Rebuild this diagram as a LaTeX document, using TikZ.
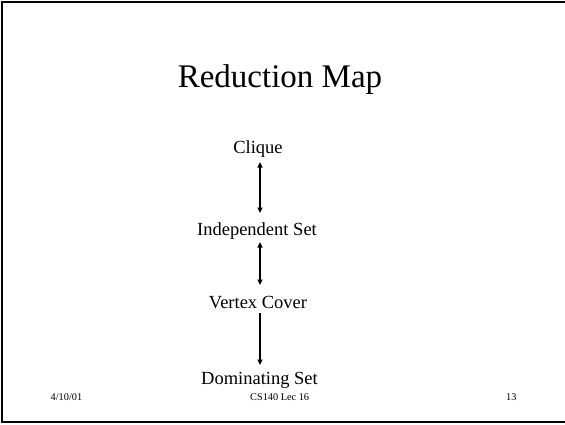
\documentclass[tikz,border=0pt]{standalone}
\usepackage{fontspec}
\setmainfont{Liberation Serif}
\usetikzlibrary{arrows.meta}
\tikzset{
  item/.style={anchor=base, inner sep=0pt, font=\fontsize{18.5}{22}\selectfont},
  foot/.style={anchor=base west, inner sep=0pt, font=\fontsize{10.3}{12}\selectfont},
  reduce/.style={line width=2pt, -{Triangle[length=5.5pt,width=5pt]}},
  both/.style={line width=2pt, {Triangle[length=5.5pt,width=5pt]}-{Triangle[length=5.5pt,width=5pt]}},
}
\begin{document}
\begin{tikzpicture}[x=1pt,y=-1pt]
\useasboundingbox (0,0) rectangle (565,424);
% slide frame (right edge runs off the page)
\draw[line width=2.5pt] (570,2) -- (2,2) -- (2,422) -- (570,422);

\node[anchor=base, inner sep=0pt, font=\fontsize{33}{40}\selectfont] (title) at (280,87) {Reduction Map};

\node[item] (clique) at (258,153.5) {Clique};
\node[item] (indep)  at (257,235) {Independent Set};
\node[item] (vcover) at (258,308) {Vertex Cover};
\node[item] (domset) at (259.5,384) {Dominating Set};

% arrow end points just under / above the labels
\coordinate (c1) at (260,162);
\coordinate (i1) at (260,213);
\coordinate (i2) at (260,242);
\coordinate (v1) at (260,285);
\coordinate (v2) at (260,313);
\coordinate (d1) at (260,365);

\draw[both] (c1) -- (i1);
\draw[both] (i2) -- (v1);
\draw[reduce] (v2) -- (d1);

\node[foot] (date) at (50.5,400) {4/10/01};
\node[foot] (course) at (250,400) {CS140 Lec 16};
\node[foot] (page) at (506,400) {13};
\end{tikzpicture}
\end{document}
